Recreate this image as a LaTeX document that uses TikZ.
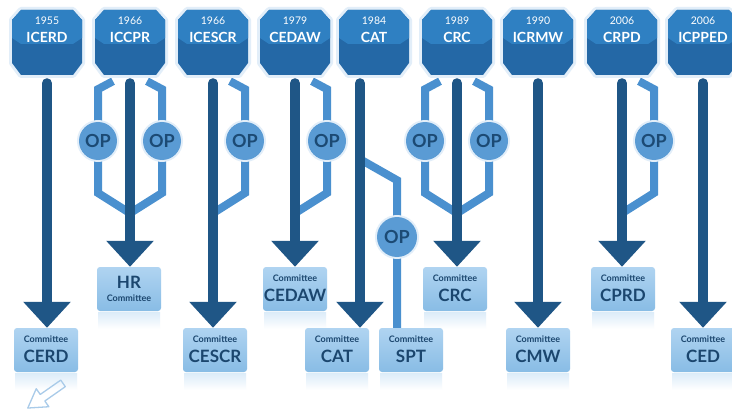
\documentclass[tikz,border=0pt]{standalone}
\usepackage{fontspec}
\setmainfont{Lato}
\usetikzlibrary{arrows.meta,calc}
\definecolor{octside}{HTML}{2468A6}
\definecolor{octtop}{HTML}{2F80C2}
\definecolor{octglow}{HTML}{E2EEF9}
\definecolor{shaftc}{HTML}{1F5686}
\definecolor{branchc}{HTML}{4A90CF}
\definecolor{opc}{HTML}{5A9BD4}
\definecolor{optxt}{HTML}{1C4A74}
\definecolor{boxtop}{HTML}{B0D4F1}
\definecolor{boxbot}{HTML}{88BCE5}
\definecolor{boxtxt}{HTML}{1B466E}
\definecolor{hintc}{HTML}{A9CBE9}
\tikzset{
 hdr/.style={minimum width=70pt, minimum height=65pt, inner sep=0pt},
 yr/.style={text=white, font=\fontsize{10.5}{11}\selectfont, inner sep=0pt},
 acr/.style={text=white, font=\fontsize{14}{15}\selectfont\bfseries, inner sep=0pt},
 shaft/.style={draw=shaftc, line width=10pt, line cap=round, -{Triangle[width=46pt,length=26pt]}},
 branch/.style={draw=branchc, line width=8pt},
 op/.style={circle, fill=opc, minimum size=38pt, inner sep=0pt, text=optxt,
   font=\fontsize{18}{18}\selectfont\bfseries, preaction={draw=octglow, line width=4pt}},
 cbox/.style={rounded corners=3pt, top color=boxtop, bottom color=boxbot,
   minimum width=64pt, minimum height=44pt, inner sep=0pt},
 csmall/.style={text=boxtxt, font=\fontsize{9}{10}\selectfont\bfseries, inner sep=0pt},
 cbig/.style={text=boxtxt, font=\fontsize{17}{18}\selectfont\bfseries, inner sep=0pt},
 refl/.style={top color=boxtop!45, bottom color=white, draw=none},
 hintarrow/.style={draw=hintc, line width=1.3pt, line join=round},
}
\newcommand\MakeHdr[4]{%
 \path[fill=octside, preaction={draw=octglow, line width=6pt, line join=round}]
   ({#2-26},10) -- ({#2+26},10) -- ({#2+35},20) -- ({#2+35},63) -- ({#2+26},75)
   -- ({#2-26},75) -- ({#2-35},63) -- ({#2-35},20) -- cycle;
 \fill[octtop] ({#2-35},20) -- ({#2-26},10) -- ({#2+26},10) -- ({#2+35},20)
   -- ({#2+35},38) -- ({#2+26},44) -- ({#2-26},44) -- ({#2-35},38) -- cycle;
 \node[hdr] (#1) at (#2,42.5) {};
 \node[yr] (#1-yr) at (#2,20.5) {#3};
 \node[acr] (#1-ab) at (#2,37) {#4};}
\newcommand\MakeCom[4]{%
 \fill[refl] ({#2-31},{#3+45}) rectangle ({#2+31},{#3+62});
 \node[cbox] (#1) at (#2,{#3+22}) {};
 \node[csmall] (#1-a) at (#2,{#3+11.5}) {Committee};
 \node[cbig] (#1-b) at (#2,{#3+28}) {#4};}
\newcommand\MakeBranch[3]{%
 \draw[branch] ($(#1.south)+(#2*17,6)$) -- ++(#2*15,8) -- (#3.center) -- ++(0,52)
   -- ($(#1.south)+(0,138)$);}
\begin{document}
\begin{tikzpicture}[x=1pt,y=-1pt]
\useasboundingbox (0,0) rectangle (732,412);
\path[clip] (0,0) rectangle (732,412);
\fill[white] (0,0) rectangle (732,412);

% OP circle positions
\path (98,141) coordinate (p1) (162,141) coordinate (p2) (245,141) coordinate (p3)
      (327,141) coordinate (p4) (397,237) coordinate (p5) (425,141) coordinate (p6)
      (489,141) coordinate (p7) (654,141) coordinate (p8);

% headers (named nodes)
\node[hdr] (icerd) at (47,42.5) {};
\node[hdr] (iccpr) at (130,42.5) {};
\node[hdr] (icescr) at (213,42.5) {};
\node[hdr] (cedaw) at (295,42.5) {};
\node[hdr] (cat) at (374,42.5) {};
\node[hdr] (crc) at (457,42.5) {};
\node[hdr] (icrmw) at (538,42.5) {};
\node[hdr] (crpd) at (622,42.5) {};
\node[hdr] (icpped) at (703,42.5) {};

% committees
\fill[refl] (98,312) rectangle (160,329);
\node[cbox] (hr) at (129,289) {};
\node[cbig] (hr-b) at (129,282.5) {HR};
\node[csmall] (hr-a) at (129,298) {Committee};
\MakeCom{cedawc}{295}{267}{CEDAW}
\MakeCom{crcc}{455}{267}{CRC}
\MakeCom{cprdc}{623}{267}{CPRD}
\MakeCom{cerd}{46}{328}{CERD}
\MakeCom{cescr}{215}{328}{CESCR}
\MakeCom{catc}{337}{328}{CAT}
\MakeCom{spt}{411}{328}{SPT}
\MakeCom{cmw}{538}{328}{CMW}
\MakeCom{ced}{703}{328}{CED}

% optional protocol branches
\MakeBranch{iccpr}{-1}{p1}
\MakeBranch{iccpr}{1}{p2}
\MakeBranch{icescr}{1}{p3}
\MakeBranch{cedaw}{1}{p4}
\MakeBranch{crc}{-1}{p6}
\MakeBranch{crc}{1}{p7}
\MakeBranch{crpd}{1}{p8}
\draw[branch] ($(cat.south)+(-14,84)$) -- ($(cat.south)+(23,105)$) -- (p5) -- (p5 |- spt.north);

% main arrows
\foreach \h/\c in {icerd/cerd, iccpr/hr, icescr/cescr, cedaw/cedawc, crc/crcc, icrmw/cmw, crpd/cprdc, icpped/ced}{
  \coordinate (\h-s) at ($(\h.south)+(0,8)$);
  \draw[shaft] (\h-s) -- (\h-s |- \c.north);
}
\coordinate (cat-s) at ($(cat.south)+(-14,8)$);
\draw[shaft] (cat-s) -- (cat-s |- catc.north);

% OP circles
\node[op] (op1) at (p1) {OP};
\node[op] (op2) at (p2) {OP};
\node[op] (op3) at (p3) {OP};
\node[op] (op4) at (p4) {OP};
\node[op, minimum size=40pt] (op5) at (p5) {OP};
\node[op] (op6) at (p6) {OP};
\node[op] (op7) at (p7) {OP};
\node[op] (op8) at (p8) {OP};

% header octagons
\MakeHdr{icerdh}{47}{1955}{ICERD}
\MakeHdr{iccprh}{130}{1966}{ICCPR}
\MakeHdr{icescrh}{213}{1966}{ICESCR}
\MakeHdr{cedawh}{295}{1979}{CEDAW}
\MakeHdr{cath}{374}{1984}{CAT}
\MakeHdr{crch}{457}{1989}{CRC}
\MakeHdr{icrmwh}{538}{1990}{ICRMW}
\MakeHdr{crpdh}{622}{2006}{CRPD}
\MakeHdr{icppedh}{703}{2006}{ICPPED}

% faint outline arrow at bottom left, pointing down-left
\begin{scope}[shift={(45,396)}, rotate=215]
\draw[hintarrow] (-22,-4) -- (3,-4) -- (3,-11) -- (21,0) -- (3,11) -- (3,4) -- (-22,4) -- cycle;
\end{scope}
\end{tikzpicture}
\end{document}
